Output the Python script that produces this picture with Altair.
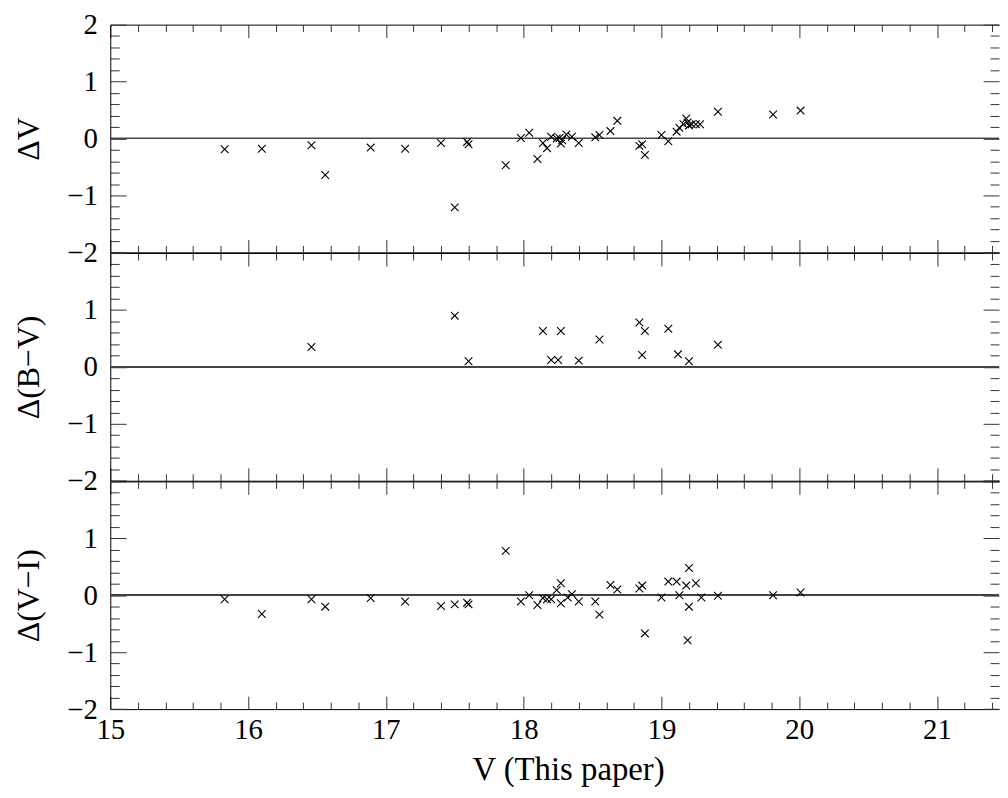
import altair as alt
import pandas as pd

# ---- data ----
x_dv = [15.83, 16.10, 16.46, 16.56, 16.89, 17.14, 17.40, 17.50, 17.59, 17.60,
        17.87, 17.98, 18.04, 18.10, 18.14, 18.17, 18.20, 18.24, 18.26, 18.27,
        18.28, 18.31, 18.35, 18.40, 18.52, 18.55, 18.63, 18.68,
        18.84, 18.86, 18.88,
        19.00, 19.05, 19.11, 19.13, 19.16, 19.18, 19.19, 19.20, 19.22, 19.25, 19.28,
        19.41, 19.81, 20.01]
dv = [-0.19, -0.18, -0.12, -0.64, -0.16, -0.18, -0.08, -1.21, -0.06, -0.10,
      -0.47, 0.01, 0.10, -0.36, -0.08, -0.17, 0.03, 0.00, 0.01, -0.09,
      -0.03, 0.07, 0.03, -0.08, 0.02, 0.06, 0.13, 0.31,
      -0.13, -0.10, -0.29,
      0.06, -0.05, 0.12, 0.19, 0.25, 0.35, 0.28, 0.23, 0.25, 0.25, 0.25,
      0.47, 0.42, 0.49]

x_dbv = [16.46, 17.50, 17.60, 18.14, 18.20, 18.25, 18.27, 18.40, 18.55,
         18.84, 18.86, 18.88, 19.05, 19.12, 19.20, 19.41]
dbv = [0.35, 0.90, 0.10, 0.63, 0.12, 0.12, 0.63, 0.11, 0.48,
       0.78, 0.21, 0.63, 0.67, 0.22, 0.10, 0.39]

x_dvi = [15.83, 16.10, 16.46, 16.56, 16.89, 17.14, 17.40, 17.50, 17.59, 17.60,
         17.87, 17.98, 18.04, 18.10, 18.14, 18.17, 18.20, 18.24, 18.27, 18.27,
         18.32, 18.35, 18.40, 18.52, 18.55, 18.63, 18.68, 18.84, 18.86, 18.88,
         19.00, 19.05, 19.11, 19.13, 19.18, 19.20, 19.20, 19.19, 19.25, 19.29,
         19.41, 19.81, 20.01]
dvi = [-0.07, -0.33, -0.07, -0.20, -0.05, -0.11, -0.19, -0.16, -0.13, -0.16,
       0.78, -0.11, 0.00, -0.17, -0.05, -0.07, -0.07, 0.09, 0.21, -0.14,
       -0.04, 0.02, -0.11, -0.11, -0.34, 0.18, 0.10, 0.12, 0.17, -0.67,
       -0.04, 0.24, 0.24, 0.00, 0.17, 0.48, -0.20, -0.79, 0.21, -0.04,
       -0.01, 0.00, 0.05]

x_ticks = [round(15 + 0.2 * i, 1) for i in range(33)]
y_ticks = [round(-2 + 0.2 * i, 1) for i in range(21)]

FONT = "Liberation Serif"
W = 895
H = 229.3
XDOM = [15, 21.45]
YDOM = [-2, 2]
MAJOR = "abs(datum.value - round(datum.value)) < 0.01"
CROSS = "M-1,-1L1,1M-1,1L1,-1"


def panel(xs, ys, ytitle, show_top, bottom):
    df = pd.DataFrame({"x": xs, "y": ys})
    xs_ = alt.Scale(domain=XDOM, nice=False, zero=False)
    ys_ = alt.Scale(domain=YDOM, nice=False, zero=False)
    tx = {"condition": {"test": MAJOR, "value": -13}, "value": -7}
    ty = {"condition": {"test": MAJOR, "value": -16}, "value": -9}

    ylab = ("%s && (datum.value < 1.5 || %s) ? replace(format(datum.value, 'd'), '-', '\u2212') : ''"
            % (MAJOR, "true" if show_top else "false"))
    xkw = dict(orient="bottom", values=x_ticks, tickSize=tx, domain=True,
               labelFlush=False, labelOverlap=False, labelFontSize=29,
               labelPadding=20, grid=False)
    if bottom:
        xkw.update(labels=True, labelExpr="%s ? format(datum.value, 'd') : ''" % MAJOR,
                   title="V (This paper)", titlePadding=3, titleFontSize=33,
                   titleX=461, titleAlign="center")
    else:
        xkw.update(labels=False, title="")
    ax_bottom = alt.Axis(**xkw)
    ax_left = alt.Axis(orient="left", values=y_ticks, tickSize=ty, domain=True,
                       labelExpr=ylab, labelOverlap=False, labelFontSize=29,
                       labelPadding=29, labelBaseline="middle", title=ytitle,
                       titleFontSize=32, titlePadding=21, grid=False)
    ax_top = alt.Axis(orient="top", values=x_ticks, tickSize=tx, domain=True,
                      labels=False, title="", grid=False)
    ax_right = alt.Axis(orient="right", values=y_ticks, tickSize=ty, domain=False,
                        labels=False, title="", grid=False)

    pts = alt.Chart(df).mark_point(shape=CROSS, size=60, filled=False, color="black",
                                   strokeWidth=1.1, opacity=1).encode(
        x=alt.X("x:Q", scale=xs_, axis=ax_bottom),
        y=alt.Y("y:Q", scale=ys_, axis=ax_left),
    )
    ghost = alt.Chart(df).mark_point(opacity=0).encode(
        x=alt.X("x:Q", scale=xs_, axis=ax_top),
        y=alt.Y("y:Q", scale=ys_, axis=ax_right),
    )
    zero = alt.Chart(df).mark_rule(color="#444", strokeWidth=1).encode(
        y=alt.datum(0, scale=ys_, axis=None),
    )
    return alt.layer(zero, pts, ghost).resolve_axis(x="independent", y="independent").properties(
        width=W, height=H)


top = panel(x_dv, dv, "\u0394V", True, False)
mid = panel(x_dbv, dbv, "\u0394(B\u2212V)", False, False)
bot = panel(x_dvi, dvi, "\u0394(V\u2212I)", False, True)

chart = alt.vconcat(top, mid, bot, spacing=0, bounds="flush").properties(
    padding={"left": 5, "top": 0, "right": 0, "bottom": 0}
).configure_view(stroke=None).configure_axis(
    labelFont=FONT, titleFont=FONT, labelColor="black", titleColor="black",
    domainColor="black", tickColor="#333", titleFontWeight="normal", domainWidth=1,
)

chart.save("out.html", embed_options={"renderer": "svg", "actions": False})
